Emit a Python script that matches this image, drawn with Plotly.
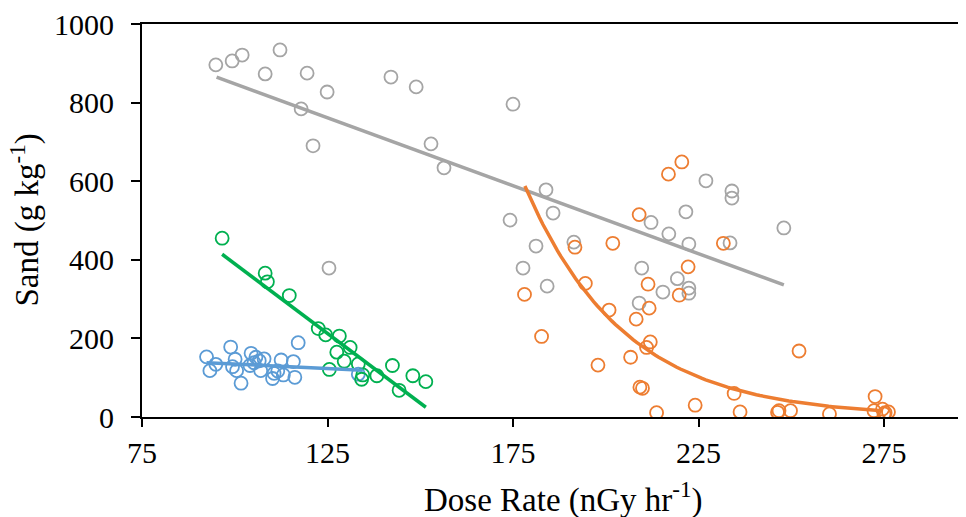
import numpy as np
import plotly.graph_objects as go

# ---- data ----
gray_x = [94.9, 99.3, 102.0, 112.2, 108.2, 119.5, 124.9, 117.9, 121.1, 142.1, 148.9, 152.9, 156.4,
          125.4, 175.0, 174.2, 177.7, 183.9, 185.8, 181.2, 184.2, 191.4, 212.2, 217.0, 221.6,
          227.0, 234.0, 234.0, 233.5, 222.4, 248.0, 209.7, 219.3, 222.4, 222.4, 215.4, 209.0]
gray_y = [896, 906, 921, 934, 873, 875, 827, 784, 690, 865, 840, 695, 634,
          379, 796, 501, 379, 578, 519, 435, 333, 445, 495, 466, 522,
          601, 575, 557, 443, 440, 481, 379, 352, 328, 315, 318, 290]

orange_x = [220.5, 216.9, 209.0, 201.9, 191.7, 231.7, 222.2, 178.1, 194.5, 211.4, 219.8, 200.9,
            211.7, 208.2, 182.7, 212.0, 211.0, 206.7, 197.9, 252.1, 209.2, 209.9, 224.1, 234.6,
            213.7, 236.2, 246.3, 246.7, 249.8, 260.3, 272.6, 272.3, 274.6, 275.3, 276.2, 275.0]
orange_y = [649, 618, 515, 442, 432, 442, 382, 312, 340, 338, 310, 272,
            277, 249, 205, 191, 177, 152, 132, 168, 76, 73, 30, 60,
            11, 13, 12, 16, 16, 8, 52, 16, 20, 11, 13, 8]

green_x = [96.6, 108.2, 108.8, 114.7, 122.5, 124.5, 128.2, 131.1, 127.5, 129.5, 125.5, 133.3,
           134.5, 134.2, 138.3, 142.5, 144.3, 148.0, 151.5]
green_y = [455, 366, 344, 309, 225, 209, 206, 177, 165, 142, 121, 135,
           107, 96, 105, 131, 68, 105, 90]

blue_x = [92.4, 93.3, 94.9, 98.9, 100.1, 99.4, 100.5, 101.7, 104.4, 104.1, 105.7, 106.6,
          107.9, 105.2, 107.0, 110.2, 110.6, 111.6, 112.5, 113.1, 115.8, 116.2, 117.1, 133.3]
blue_y = [153, 118, 134, 178, 147, 128, 118, 86, 162, 131, 152, 143,
          148, 138, 118, 98, 111, 117, 145, 107, 141, 101, 189, 109]

# trend lines
gray_fit = {"slope": -3.46, "intercept": 1194.0, "x0": 95.1, "x1": 248.0}
green_fit = {"slope": -7.09, "intercept": 1099.0, "x0": 96.6, "x1": 151.5}
blue_fit = {"slope": -0.45, "intercept": 179.6, "x0": 92.4, "x1": 134.5}
orange_fit = {"a": 588.0, "b": -0.0375, "xref": 178.2, "x0": 178.2, "x1": 274.7}

x_ticks = [75, 125, 175, 225, 275]
y_ticks = [0, 200, 400, 600, 800, 1000]
x_title = "Dose Rate (nGy hr<sup>-1</sup>)"
y_title = "Sand (g kg<sup>-1</sup>)"

GRAY = "#A5A5A5"
ORANGE = "#ED7D31"
GREEN = "#00B050"
BLUE = "#5B9BD5"

fig = go.Figure()


def add_points(xs, ys, color):
    fig.add_trace(go.Scatter(
        x=xs, y=ys, mode="markers",
        marker=dict(symbol="circle-open", size=13, color=color, line=dict(width=1.8, color=color)),
        showlegend=False, hoverinfo="skip"))


add_points(blue_x, blue_y, BLUE)
add_points(green_x, green_y, GREEN)
add_points(gray_x, gray_y, GRAY)
add_points(orange_x, orange_y, ORANGE)


def add_lin(fit, color):
    xs = np.array([fit["x0"], fit["x1"]])
    fig.add_trace(go.Scatter(x=xs, y=fit["slope"] * xs + fit["intercept"], mode="lines",
                             line=dict(color=color, width=3.5), showlegend=False, hoverinfo="skip"))


add_lin(blue_fit, BLUE)
add_lin(green_fit, GREEN)
add_lin(gray_fit, GRAY)
ox = np.linspace(orange_fit["x0"], orange_fit["x1"], 100)
oy = orange_fit["a"] * np.exp(orange_fit["b"] * (ox - orange_fit["xref"]))
fig.add_trace(go.Scatter(x=ox, y=oy, mode="lines", line=dict(color=ORANGE, width=3.5),
                         showlegend=False, hoverinfo="skip"))

FONT = "Liberation Serif"
# the page body adds an 8px offset, so the figure is 958x509 inside the 966x517 window
fig.update_layout(
    width=958, height=509,
    margin=dict(l=134, r=0, t=16, b=100),
    paper_bgcolor="white", plot_bgcolor="white",
    font=dict(family=FONT, size=30, color="black"),
    xaxis=dict(range=[75, 297.1], tickvals=x_ticks, ticks="outside", ticklen=8, tickwidth=1.5,
               tickcolor="black", showline=True, linecolor="black", linewidth=2, mirror=True,
               showgrid=False, zeroline=False, automargin=False, ticklabelstandoff=0,
               ticklabeloverflow="allow", tickfont=dict(family=FONT, size=30)),
    yaxis=dict(range=[0, 1000], tickvals=y_ticks, ticks="outside", ticklen=9, tickwidth=1.5,
               tickcolor="black", showline=True, linecolor="black", linewidth=2,
               showgrid=False, zeroline=False, automargin=False, ticklabelstandoff=11,
               ticklabeloverflow="allow", tickfont=dict(family=FONT, size=30)),
    annotations=[
        dict(text=x_title, xref="paper", yref="paper", x=0.511, y=0, xanchor="center",
             yanchor="middle", yshift=-80, showarrow=False, font=dict(family=FONT, size=33)),
        dict(text=y_title, xref="paper", yref="paper", x=0, y=0.5, xanchor="center",
             yanchor="middle", xshift=-117, textangle=-90, showarrow=False,
             font=dict(family=FONT, size=33)),
    ],
)

fig.write_html("out.html")
